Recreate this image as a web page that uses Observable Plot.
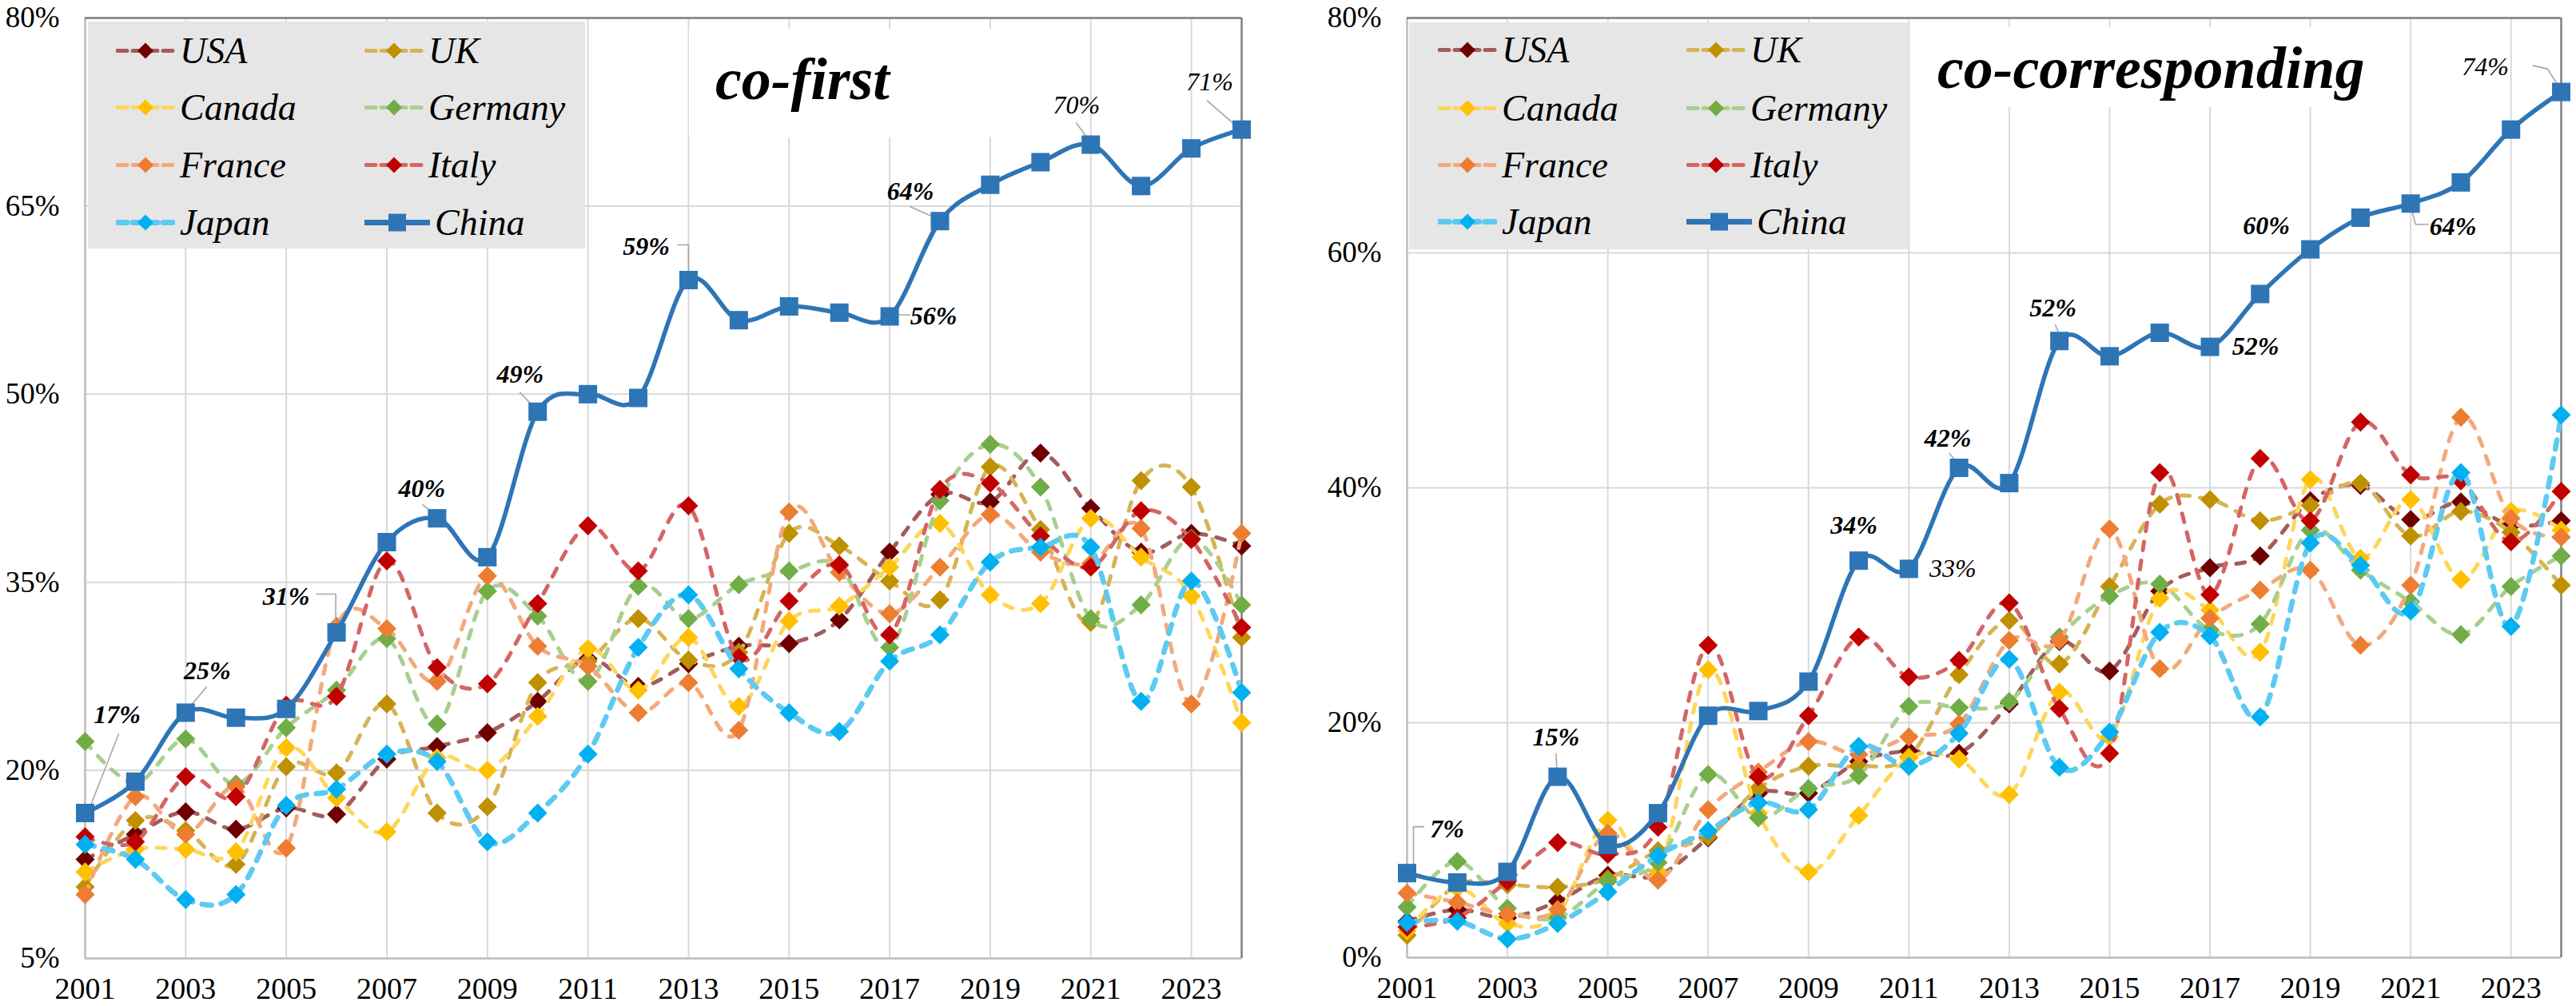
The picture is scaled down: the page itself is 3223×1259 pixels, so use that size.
<!DOCTYPE html>
<html><head><meta charset="utf-8">
<script src="https://cdn.jsdelivr.net/npm/d3@7"></script>
<script src="https://cdn.jsdelivr.net/npm/@observablehq/plot@0.6"></script>
<style>
html,body{margin:0;padding:0;background:#fff;}
#wrap{display:flex;width:3223px;height:1259px;overflow:hidden;}
.panel{position:relative;height:1259px;}
.panel > svg.plotsvg{display:block;}
.legend{position:absolute;background:#e7e6e6;}
.leg-item{position:absolute;display:flex;align-items:center;font-family:"Liberation Serif",serif;font-style:italic;font-size:46px;color:#000;transform:translateY(-50%);white-space:nowrap;}
.leg-item svg{display:block;margin-right:6px;}
.overlay{position:absolute;left:0;top:0;pointer-events:none;}
</style></head>
<body>
<div id="wrap"><div id="left" class="panel" style="width:1600px"></div><div id="right" class="panel" style="width:1623px"></div></div>
<script>
// ---------- DATA ----------
const years = d3.range(2001, 2025);
const tickYears = [2001,2003,2005,2007,2009,2011,2013,2015,2017,2019,2021,2023];
const countries = ["USA","UK","Canada","Germany","France","Italy","Japan","China"];

// co-first shares (%)
const firstUSA     = [12.9,14.9,16.7,15.3,17.0,16.5,20.9,21.9,23.0,25.5,28.9,26.7,28.5,29.9,30.1,32.0,37.4,42.0,41.4,45.3,40.9,37.4,38.9,37.9];
const firstUK      = [10.7,16.0,15.2,12.5,20.3,19.8,25.3,16.6,17.1,27.0,28.7,32.1,28.8,29.4,38.9,37.9,35.1,33.6,44.2,39.2,31.8,43.1,42.6,30.6];
const firstCanada  = [11.9,13.7,13.7,13.5,21.8,17.8,15.1,21.0,20.0,24.3,29.7,26.4,30.6,25.1,31.9,33.1,36.2,39.7,34.0,33.3,40.1,37.0,33.9,23.8];
const firstGermany = [22.3,19.0,22.5,18.9,23.4,26.4,30.5,23.7,34.3,32.3,27.1,34.7,32.1,34.8,35.9,36.3,29.8,41.5,46.0,42.6,32.1,33.2,38.5,33.2];
const firstFrance  = [10.1,17.9,14.9,18.7,13.8,31.5,31.3,27.1,35.5,29.9,28.3,24.6,27.0,23.2,40.6,35.8,32.5,36.2,40.4,37.4,36.5,39.3,25.3,38.9];
const firstItaly   = [14.7,14.3,19.5,17.9,25.2,25.9,36.7,28.2,26.9,33.3,39.5,35.9,41.1,29.0,33.5,36.4,30.8,42.4,42.9,38.7,36.2,40.7,38.4,31.4];
const firstJapan   = [14.1,12.9,9.7,10.1,17.2,18.5,21.3,20.7,14.3,16.6,21.3,29.8,34.0,28.1,24.6,23.1,28.7,30.8,36.6,37.8,37.8,25.5,35.1,26.2];
const firstChina   = [16.6,19.1,24.6,24.2,24.9,31.0,38.2,40.1,37.0,48.6,50.0,49.7,59.1,55.9,57.0,56.5,56.2,63.8,66.7,68.5,69.9,66.6,69.6,71.1];

// co-corresponding shares (%)
const corrUSA     = [3.1,4.1,3.4,4.8,7.0,7.0,10.2,14.0,14.0,16.7,17.6,17.4,21.6,26.9,24.4,31.2,33.2,34.2,38.9,40.2,37.3,38.8,36.8,37.2];
const corrUK      = [1.9,6.2,6.2,6.0,6.7,9.1,10.3,14.4,16.3,16.3,17.1,24.1,28.7,25.0,31.6,38.6,39.0,37.2,38.5,40.4,35.9,38.0,36.2,31.7];
const corrCanada  = [2.3,5.9,2.9,3.7,11.7,7.3,24.5,12.3,7.3,12.1,17.0,16.9,13.9,22.6,18.8,30.6,29.6,26.0,40.7,34.0,39.0,32.2,38.0,36.4];
const corrGermany = [4.3,8.2,4.2,3.4,6.5,8.1,15.6,11.9,14.4,15.5,21.4,21.3,21.8,27.3,30.8,31.8,27.9,28.4,36.4,33.0,30.3,27.5,31.6,34.2];
const corrFrance  = [5.5,4.7,3.7,4.1,10.6,6.6,12.6,15.8,18.4,17.3,18.8,19.9,27.0,27.0,36.5,24.6,28.9,31.3,33.0,26.6,31.7,46.0,37.4,35.8];
const corrItaly   = [2.6,3.4,6.5,9.8,8.8,11.1,26.6,15.4,20.6,27.3,23.9,25.3,30.2,21.2,17.4,41.3,30.9,42.5,37.2,45.6,41.1,40.6,35.4,39.7];
const corrJapan   = [3.0,3.1,1.6,2.9,5.6,8.7,10.8,13.2,12.6,18.0,16.3,19.1,25.4,16.2,19.2,27.7,27.4,20.5,35.3,33.4,29.5,41.3,28.2,46.2];
const corrChina   = [7.2,6.4,7.3,15.4,9.6,12.3,20.6,21.0,23.5,33.8,33.1,41.7,40.4,52.5,51.2,53.2,52.0,56.5,60.3,63.0,64.2,66.0,70.5,73.7];

// China data labels
const firstLabelYears = [2001,2003,2006,2008,2010,2013,2017,2018,2021,2024];
const firstLabelTexts = ["17%","25%","31%","40%","49%","59%","56%","64%","70%","71%"];
const corrLabelYears  = [2001,2004,2010,2011,2012,2014,2017,2019,2021,2024];
const corrLabelTexts  = ["7%","15%","34%","33%","42%","52%","52%","60%","64%","74%"];

// ---------- STYLE / LAYOUT ----------
const markerColor = {USA:"#6e0000",UK:"#bf9000",Canada:"#ffc000",Germany:"#70ad47",France:"#ed7d31",Italy:"#c00000",Japan:"#00b0f0",China:"#2e75b6"};
const lineColor   = {USA:"#a45c5c",UK:"#d6b456",Canada:"#ffd65a",Germany:"#a8cf8e",France:"#f3a97c",Italy:"#d56565",Japan:"#5ccaf2",China:"#2e75b6"};
const FONT = '"Liberation Serif", "Times New Roman", serif';

// label placement offsets in pixels (text centre, leader polyline), plus bold flag
const firstLabelLayout = [
  {t:[40,-123], l:[[4,-2],[42,-99]], b:true},
  {t:[27,-52],  l:[[3,-5],[26,-32]], b:true},
  {t:[-63,-45], l:[[-1,-6],[-1,-48],[-25,-48]], b:true},
  {t:[-19,-37], l:[[-3,-5],[-18,-17]], b:true},
  {t:[-22,-47], l:[[-2,-3],[-22,-24]], b:true},
  {t:[-53,-42], l:[[0,-8],[0,-44],[-14,-44]], b:true},
  {t:[55,0],    l:[[12,-2],[25,-2]], b:true},
  {t:[-37,-37], l:[[-3,-3],[-37,-18]], b:true},
  {t:[-18,-49], l:[[-2,-5],[-18,-27]], b:false},
  {t:[-40,-59], l:[[-5,-3],[-43,-36]], b:false}
];
const corrLabelLayout = [
  {t:[50,-55],  l:[[8,-10],[8,-58],[21,-58]], b:true},
  {t:[-2,-49],  l:[[-1,-9],[-2,-29]], b:true},
  {t:[-6,-44],  l:null, b:true},
  {t:[55,0],    l:null, b:false},
  {t:[-14,-37], l:[[-1,-5],[-12,-18]], b:true},
  {t:[-8,-41],  l:[[0,-8],[-5,-20]], b:true},
  {t:[57,0],    l:null, b:true},
  {t:[-55,-29], l:null, b:true},
  {t:[53,29],   l:[[2,10],[6,26],[22,26]], b:true},
  {t:[-95,-31], l:[[-1,-3],[-17,-29],[-35,-33]], b:false}
];

const panels = {
  left:  {width:1600, ml:106, mr:47, mt:22, mb:60, yDomain:[5,80], yTicks:[5,20,35,50,65,80],
          series:{USA:firstUSA,UK:firstUK,Canada:firstCanada,Germany:firstGermany,France:firstFrance,Italy:firstItaly,Japan:firstJapan,China:firstChina},
          labelYears:firstLabelYears, labelTexts:firstLabelTexts, labelLayout:firstLabelLayout,
          legend:{x:110,y:27,w:622,h:284,cols:[35,346],rows:[36,107,179,251]},
          title:{text:"co-first", x:895, base:124, rect:[862,36,378,136]}},
  right: {width:1623, ml:160, mr:19, mt:22, mb:61, yDomain:[0,80], yTicks:[0,20,40,60,80],
          series:{USA:corrUSA,UK:corrUK,Canada:corrCanada,Germany:corrGermany,France:corrFrance,Italy:corrItaly,Japan:corrJapan,China:corrChina},
          labelYears:corrLabelYears, labelTexts:corrLabelTexts, labelLayout:corrLabelLayout,
          legend:{x:163,y:28,w:625,h:284,cols:[36,347],rows:[34,107,178,249]},
          title:{text:"co-corresponding", x:824, base:110, rect:[800,34,551,100]}}
};

function build(id, cfg) {
  const H = 1259;
  const pw = cfg.width - cfg.ml - cfg.mr;
  const ph = H - cfg.mt - cfg.mb;
  const pxYear = pw / (years[years.length-1] - years[0]);
  const pxPct = ph / (cfg.yDomain[1] - cfg.yDomain[0]);
  const off = (yr, v, [dx, dy]) => ({x: yr + dx / pxYear, y: v - dy / pxPct});

  const tables = {};
  for (const c of countries) tables[c] = years.map((yr, i) => ({year: yr, value: cfg.series[c][i], country: c}));

  const marks = [
    Plot.ruleY(cfg.yTicks, {stroke:"#d9d9d9", strokeWidth:2}),
    Plot.ruleX(tickYears, {stroke:"#d9d9d9", strokeWidth:2}),
    Plot.ruleX([years[0]], {stroke:"#bfbfbf", strokeWidth:2.5}),
    Plot.ruleY([cfg.yDomain[0]], {stroke:"#bfbfbf", strokeWidth:2.5}),
    Plot.ruleY([cfg.yDomain[1]], {stroke:"#7f7f7f", strokeWidth:2.5}),
    Plot.ruleX([years[years.length-1]], {stroke:"#7f7f7f", strokeWidth:2.5}),
    Plot.axisX(tickYears, {tickSize:0, tickPadding:24, tickFormat:d => String(d), fontSize:38, label:null}),
    Plot.axisY(cfg.yTicks, {tickSize:0, tickPadding:32, tickFormat:d => d + "%", fontSize:37, label:null})
  ];
  for (const c of countries.slice(0, 7)) {
    marks.push(Plot.line(tables[c], {x:"year", y:"value", stroke:lineColor[c], strokeWidth: c === "Japan" ? 6.5 : 5,
      strokeDasharray: c === "Japan" ? "12,12" : "11,13", strokeLinecap:"round", curve:"cardinal", tension:0}));
    marks.push(Plot.dot(tables[c], {x:"year", y:"value", symbol:"diamond2", r:10.8, fill:markerColor[c], stroke:"none"}));
  }
  marks.push(Plot.line(tables.China, {x:"year", y:"value", stroke:markerColor.China, strokeWidth:5.5, curve:"cardinal", tension:0}));

  // labels
  const leaders = [], boldLabels = [], normLabels = [];
  cfg.labelYears.forEach((yr, i) => {
    const v = cfg.series.China[years.indexOf(yr)];
    const lay = cfg.labelLayout[i];
    const p = off(yr, v, lay.t);
    (lay.b ? boldLabels : normLabels).push({...p, text: cfg.labelTexts[i]});
    if (lay.l) lay.l.forEach(o => leaders.push({...off(yr, v, o), id: i}));
  });
  marks.push(Plot.line(leaders, {x:"x", y:"y", z:"id", stroke:"#a6a6a6", strokeWidth:1.6}));
  marks.push(Plot.dot(tables.China, {x:"year", y:"value", symbol:"square", r:13, fill:markerColor.China, stroke:"none"}));
  marks.push(Plot.text(boldLabels, {x:"x", y:"y", text:"text", fontSize:32, fontStyle:"italic", fontWeight:"bold", fill:"#000", fontFamily:FONT}));
  marks.push(Plot.text(normLabels, {x:"x", y:"y", text:"text", fontSize:32, fontStyle:"italic", fontWeight:"normal", fill:"#000", fontFamily:FONT}));

  const svg = Plot.plot({
    width: cfg.width, height: H,
    marginLeft: cfg.ml, marginRight: cfg.mr, marginTop: cfg.mt, marginBottom: cfg.mb,
    style: {fontFamily: FONT, fontSize: "38px", color: "#000", background: "white", overflow: "visible"},
    x: {type: "linear", domain: [years[0], years[years.length-1]]},
    y: {type: "linear", domain: cfg.yDomain},
    marks
  });
  svg.classList.add("plotsvg");
  const host = document.getElementById(id);
  host.appendChild(svg);

  // title overlay
  const ns = "http://www.w3.org/2000/svg";
  const ov = document.createElementNS(ns, "svg");
  ov.setAttribute("class", "overlay");
  ov.setAttribute("width", cfg.width); ov.setAttribute("height", H);
  const r = document.createElementNS(ns, "rect");
  const [rx, ry, rw, rh] = cfg.title.rect;
  r.setAttribute("x", rx); r.setAttribute("y", ry); r.setAttribute("width", rw); r.setAttribute("height", rh); r.setAttribute("fill", "#fff");
  ov.appendChild(r);
  const t = document.createElementNS(ns, "text");
  t.setAttribute("x", cfg.title.x); t.setAttribute("y", cfg.title.base);
  t.setAttribute("font-family", FONT); t.setAttribute("font-size", "74"); t.setAttribute("font-weight", "bold"); t.setAttribute("font-style", "italic");
  t.textContent = cfg.title.text;
  ov.appendChild(t);
  host.appendChild(ov);

  // legend overlay
  const L = cfg.legend;
  const lg = document.createElement("div");
  lg.className = "legend";
  Object.assign(lg.style, {left: L.x + "px", top: L.y + "px", width: L.w + "px", height: L.h + "px"});
  countries.forEach((c, i) => {
    const item = document.createElement("div");
    item.className = "leg-item";
    item.style.left = L.cols[i % 2] + "px";
    item.style.top = L.rows[Math.floor(i / 2)] + "px";
    const sw = 74, sh = 26, cx = sw / 2, cy = sh / 2;
    let svgs;
    if (c === "China") {
      svgs = `<svg width="${sw+8}" height="${sh}"><line x1="0" x2="${sw+8}" y1="${cy}" y2="${cy}" stroke="${lineColor[c]}" stroke-width="7" stroke-linecap="round"/><rect x="${(sw+8)/2-11}" y="${cy-11}" width="22" height="22" fill="${markerColor[c]}"/></svg>`;
    } else {
      const w = c === "Japan" ? 7 : 5;
      svgs = `<svg width="${sw}" height="${sh}"><line x1="2" x2="${sw-2}" y1="${cy}" y2="${cy}" stroke="${lineColor[c]}" stroke-width="${w}" stroke-dasharray="12,7" stroke-linecap="round"/><path d="M${cx},${cy-10}L${cx+10},${cy}L${cx},${cy+10}L${cx-10},${cy}Z" fill="${markerColor[c]}"/></svg>`;
    }
    item.innerHTML = svgs + `<span>${c}</span>`;
    lg.appendChild(item);
  });
  host.appendChild(lg);
}

build("left", panels.left);
build("right", panels.right);
</script>
</body></html>
